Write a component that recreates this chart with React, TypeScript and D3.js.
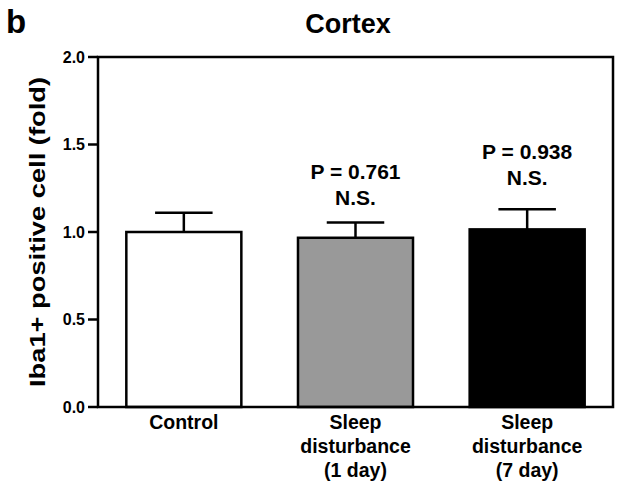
import React from 'react';
import * as d3 from 'd3';

// values
const categories = ['Control', 'Sleep disturbance (1 day)', 'Sleep disturbance (7 day)'];
const categoryLines = [['Control'], ['Sleep', 'disturbance', '(1 day)'], ['Sleep', 'disturbance', '(7 day)']];
const means = [1.0, 0.967, 1.015];
const sems = [0.11, 0.087, 0.115];
const fills = ['#ffffff', '#999999', '#000000'];
const pLabels = ['', 'P = 0.761', 'P = 0.938'];
const nsLabels = ['', 'N.S.', 'N.S.'];
const nsLevels = [0, 1.154, 1.269]; // baseline of the N.S. line, in axis units
const yTicks = [0, 0.5, 1.0, 1.5, 2.0];

const W = 624;
const H = 489;
const margin = { top: 57, right: 11, bottom: 82, left: 98 };
const font = 'Liberation Sans, Arial, Helvetica, sans-serif';

const App = () => {
  const x = d3.scaleBand()
    .domain(categories)
    .range([margin.left, W - margin.right])
    .paddingInner(0.33)
    .paddingOuter(0.165);

  const y = d3.scaleLinear()
    .domain([0, 2])
    .range([H - margin.bottom, margin.top]);

  const bw = x.bandwidth();
  const left = margin.left;
  const right = W - margin.right;
  const bottom = y(0);
  const top = y(2);

  return (
    <svg width={W} height={H} style={{ position: 'absolute', left: 0, top: 0 }} fontFamily={font} fontWeight="bold">
      <rect width={W} height={H} fill="#fff" />
      <text x={6} y={33} fontSize={33}>b</text>
      <text x={348} y={33} fontSize={27} textAnchor="middle">Cortex</text>

      {/* bars */}
      {categories.map((c, i) => {
        const x0 = x(c)!;
        const cx = x0 + bw / 2;
        const yTop = y(means[i]);
        const yErr = y(means[i] + sems[i]);
        return (
          <g key={c}>
            <line x1={cx} x2={cx} y1={yTop} y2={yErr} stroke="#000" strokeWidth={2.5} />
            <line x1={cx - bw / 4} x2={cx + bw / 4} y1={yErr} y2={yErr} stroke="#000" strokeWidth={2.5} />
            <rect x={x0} y={yTop} width={bw} height={bottom - yTop} fill={fills[i]} stroke="#000" strokeWidth={2.5} />
            {pLabels[i] && (
              <>
                <text x={cx} y={y(nsLevels[i]) - 26} fontSize={21} textAnchor="middle">{pLabels[i]}</text>
                <text x={cx} y={y(nsLevels[i])} fontSize={21} textAnchor="middle">{nsLabels[i]}</text>
              </>
            )}
            {categoryLines[i].map((t, j) => (
              <text key={j} x={cx} y={429 + j * 24} fontSize={19.5} textAnchor="middle">{t}</text>
            ))}
          </g>
        );
      })}

      {/* frame */}
      <rect x={left} y={top} width={right - left} height={bottom - top} fill="none" stroke="#000" strokeWidth={2.5} />

      {/* y axis ticks */}
      {yTicks.map(t => (
        <g key={t}>
          <line x1={left - 10} x2={left} y1={y(t)} y2={y(t)} stroke="#000" strokeWidth={2.5} />
          <text x={left - 13} y={y(t)} dy="0.36em" fontSize={16} textAnchor="end">{t.toFixed(1)}</text>
        </g>
      ))}

      <text
        transform={`translate(45,${(top + bottom) / 2}) rotate(-90)`}
        fontSize={22}
        textAnchor="middle"
        textLength={310}
        lengthAdjust="spacingAndGlyphs"
      >
        Iba1+ positive cell (fold)
      </text>
    </svg>
  );
};

export default App;
